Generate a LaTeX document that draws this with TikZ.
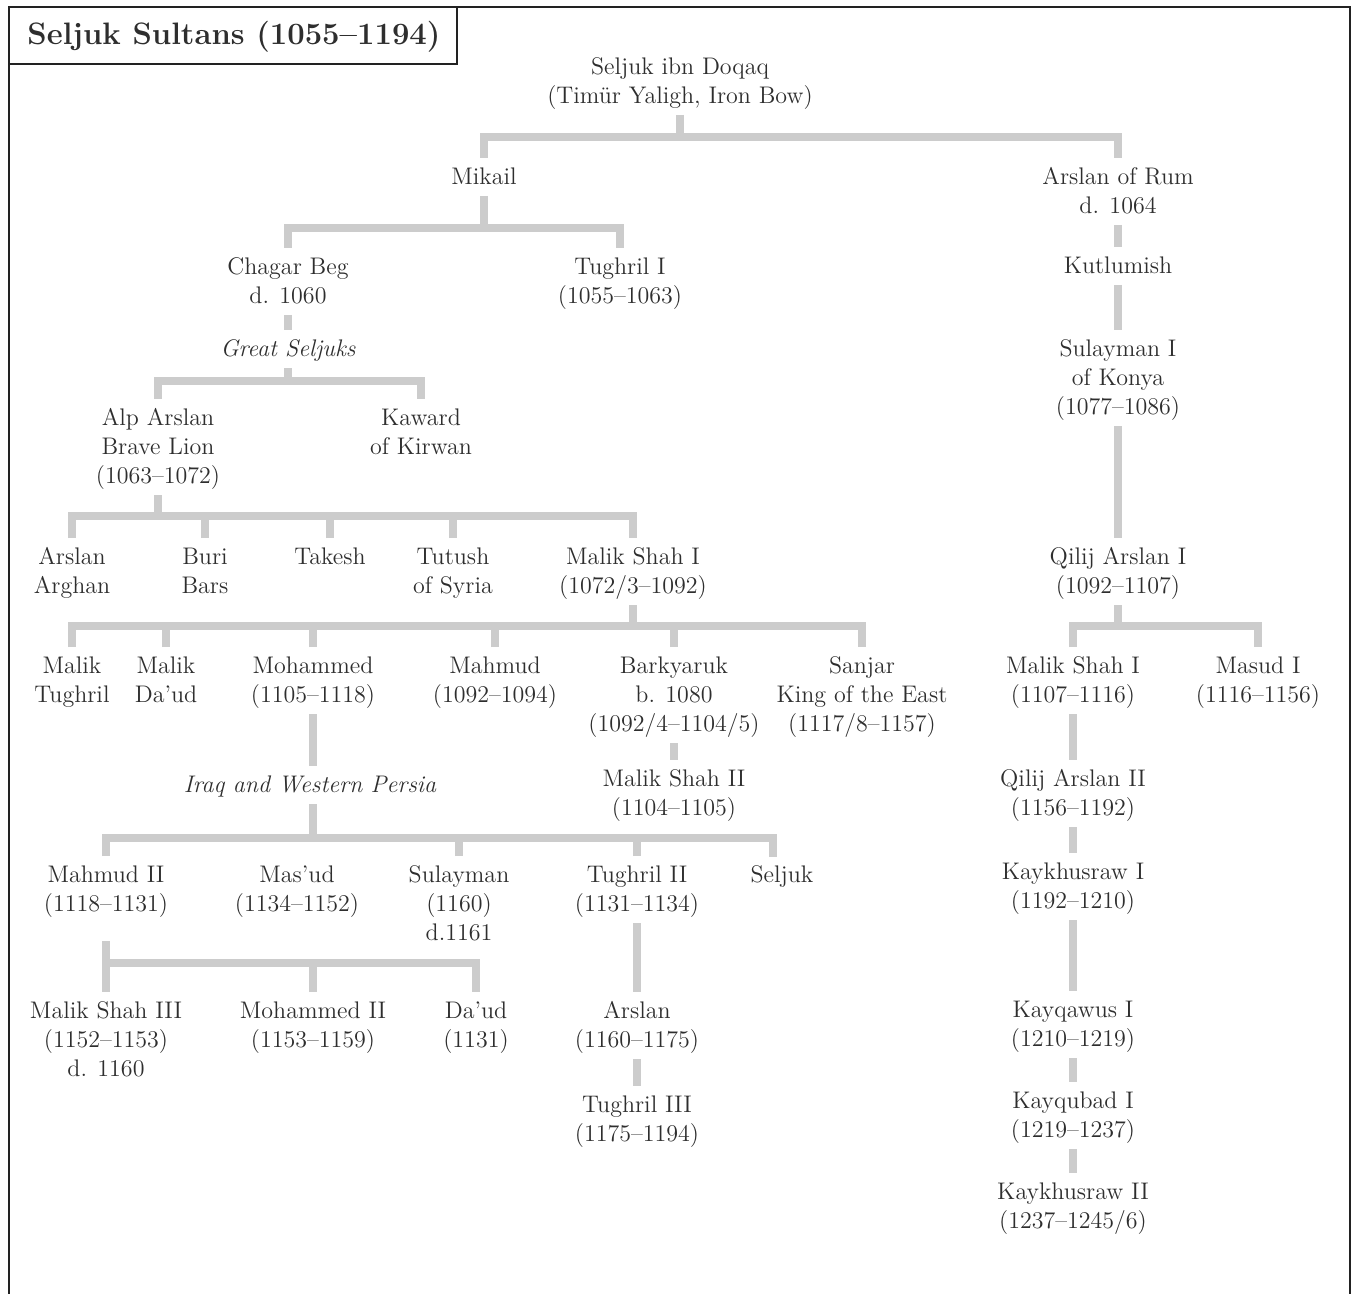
\documentclass[tikz,border=0pt]{standalone}
\usepackage{fontspec}
\definecolor{ink}{HTML}{2E2E2E}
\definecolor{bar}{HTML}{CCCCCC}
\definecolor{framec}{HTML}{222222}
\newcommand\up{\rule{0pt}{13.25pt}}
\begin{document}
\begin{tikzpicture}[x=0.5pt,y=-0.5pt,
  person/.style={align=center, text=ink, inner xsep=2pt, inner ysep=0pt, outer sep=0pt,
    font=\fontsize{12}{14.5}\selectfont,
    execute at end node={\rule[-5.75pt]{0pt}{5.75pt}}},
  branch/.style={person, font=\fontsize{12}{14.5}\selectfont\itshape},
  conn/.style={draw=bar, line width=3.7pt, line join=miter},
  frameline/.style={draw=framec, line width=1.1pt},
  titlebox/.style={draw=framec, line width=0.7pt}]
\useasboundingbox (0,0) rectangle (1353,1294);
\draw[frameline] (9,1296) -- (9,7) -- (1350,7) -- (1350,1296);
\draw[titlebox] (9,7) rectangle (457,64);
\node[text=ink, font=\fontsize{15.5}{18}\selectfont\bfseries] (title) at (234,37) {Seljuk Sultans (1055–1194)};

% nodes
\node[person] (seljuk) at (680,81.5) {\up Seljuk ibn Doqaq\\(Timür Yaligh, Iron Bow)};
\node[person] (mikail) at (484,177) {\up Mikail};
\node[person] (arum) at (1118,191.5) {\up Arslan of Rum\\d. 1064};
\node[person] (chagar) at (288,281.5) {\up Chagar Beg\\d. 1060};
\node[person] (tughril1) at (620,281.5) {\up Tughril I\\(1055–1063)};
\node[branch] (great) at (288,349) {\up Great Seljuks};
\node[person] (alp) at (158,447) {\up Alp Arslan\\Brave Lion\\(1063–1072)};
\node[person] (kaward) at (421,432.5) {\up Kaward\\of Kirwan};
\node[person] (arghan) at (72,571.5) {\up Arslan\\Arghan};
\node[person] (buri) at (205,571.5) {\up Buri\\Bars};
\node[person] (takesh) at (330,557) {\up Takesh};
\node[person] (tutush) at (453,571.5) {\up Tutush\\of Syria};
\node[person] (mshah1) at (633,571.5) {\up Malik Shah I\\(1072/3–1092)};
\node[person] (mtughril) at (72,680.5) {\up Malik\\Tughril};
\node[person] (mdaud) at (166,680.5) {\up Malik\\Da’ud};
\node[person] (mohammed) at (313,680.5) {\up Mohammed\\(1105–1118)};
\node[person] (mahmud) at (495,680.5) {\up Mahmud\\(1092–1094)};
\node[person] (barkyaruk) at (674,695) {\up Barkyaruk\\b. 1080\\(1092/4–1104/5)};
\node[person] (sanjar) at (862,695) {\up Sanjar\\King of the East\\(1117/8–1157)};
\node[person] (mshah2) at (674,793.5) {\up Malik Shah II\\(1104–1105)};
\node[branch] (iraq) at (310,785) {\up Iraq and Western Persia};
\node[person] (mahmud2) at (106,889.5) {\up Mahmud II\\(1118–1131)};
\node[person] (masud) at (297,889.5) {\up Mas’ud\\(1134–1152)};
\node[person] (sulayman) at (459,904) {\up Sulayman\\(1160)\\d.1161};
\node[person] (tughril2) at (637,889.5) {\up Tughril II\\(1131–1134)};
\node[person] (seljukb) at (782,875) {\up Seljuk};
\coordinate (seljukdrop) at (773,857);
\node[person] (mshah3) at (106,1040) {\up Malik Shah III\\(1152–1153)\\d. 1160};
\node[person] (mohammed2) at (313,1025.5) {\up Mohammed II\\(1153–1159)};
\node[person] (daud) at (476,1025.5) {\up Da’ud\\(1131)};
\node[person] (arslan2) at (637,1025.5) {\up Arslan\\(1160–1175)};
\node[person] (tughril3) at (637,1119.5) {\up Tughril III\\(1175–1194)};
\node[person] (kutlumish) at (1118,266) {\up Kutlumish};
\node[person] (sulayman1) at (1118,378) {\up Sulayman I\\of Konya\\(1077–1086)};
\node[person] (qilij1) at (1118,571.5) {\up Qilij Arslan I\\(1092–1107)};
\node[person] (rmshah1) at (1073,680.5) {\up Malik Shah I\\(1107–1116)};
\node[person] (masud1) at (1258,680.5) {\up Masud I\\(1116–1156)};
\node[person] (qilij2) at (1073,793.5) {\up Qilij Arslan II\\(1156–1192)};
\node[person] (kaykh1) at (1073,886.5) {\up Kaykhusraw I\\(1192–1210)};
\node[person] (kayqawus) at (1073,1024.5) {\up Kayqawus I\\(1210–1219)};
\node[person] (kayqubad) at (1073,1115.5) {\up Kayqubad I\\(1219–1237)};
\node[person] (kaykh2) at (1073,1206.5) {\up Kaykhusraw II\\(1237–1245/6)};

% connectors
\draw[conn] (seljuk.south) -- (seljuk.south |- 0,137);
\draw[conn] (mikail.north) |- (arum.north |- 0,137) -- (arum.north);

\draw[conn] (mikail.south) -- (mikail.south |- 0,228);
\draw[conn] (chagar.north) |- (tughril1.north |- 0,228) -- (tughril1.north);

\draw[conn] (chagar.south) -- (great.north);
\draw[conn] (great.south) -- (great.south |- 0,381);
\draw[conn] (alp.north) |- (kaward.north |- 0,381) -- (kaward.north);

\draw[conn] (alp.south) -- (alp.south |- 0,516);
\draw[conn] (arghan.north) |- (mshah1.north |- 0,516) -- (mshah1.north);
\foreach \n in {buri,takesh,tutush} \draw[conn] (\n.north) -- (\n.north |- 0,516);

\draw[conn] (mshah1.south) -- (mshah1.south |- 0,626);
\draw[conn] (mtughril.north) |- (sanjar.north |- 0,626) -- (sanjar.north);
\foreach \n in {mdaud,mohammed,mahmud,barkyaruk} \draw[conn] (\n.north) -- (\n.north |- 0,626);

\draw[conn] (barkyaruk.south) -- (mshah2.north);

\draw[conn] (mohammed.south) -- (mohammed.south |- iraq.north);
\draw[conn] (mohammed.south |- iraq.south) -- (mohammed.south |- 0,838);
\draw[conn] (mahmud2.north) |- (seljukdrop |- 0,838) -- (seljukdrop);
\foreach \n in {sulayman,tughril2} \draw[conn] (\n.north) -- (\n.north |- 0,838);

\draw[conn] (mahmud2.south) ++(0,18) -- (mshah3.north);
\draw[conn] (mahmud2.south |- 0,963) -| (daud.north);
\draw[conn] (mohammed2.north) -- (mohammed2.north |- 0,963);

\draw[conn] (tughril2.south) -- (arslan2.north);
\draw[conn] (arslan2.south) -- (tughril3.north);

\draw[conn] (arum.south) -- (kutlumish.north);
\draw[conn] (kutlumish.south) -- (sulayman1.north);
\draw[conn] (sulayman1.south) -- (qilij1.north);
\draw[conn] (qilij1.south) -- (qilij1.south |- 0,626);
\draw[conn] (rmshah1.north) |- (masud1.north |- 0,626) -- (masud1.north);
\draw[conn] (rmshah1.south) -- (qilij2.north);
\draw[conn] (qilij2.south) -- (kaykh1.north);
\draw[conn] (kaykh1.south) -- (kayqawus.north);
\draw[conn] (kayqawus.south) -- (kayqubad.north);
\draw[conn] (kayqubad.south) -- (kaykh2.north);
\end{tikzpicture}
\end{document}
